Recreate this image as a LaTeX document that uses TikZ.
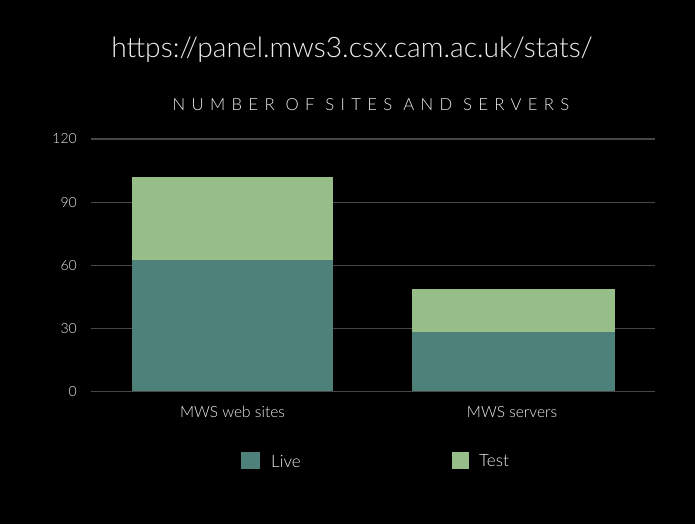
\documentclass[tikz,border=0pt]{standalone}
\usepackage{fontspec}
\setmainfont{Lato}[UprightFont=* Light]
\definecolor{livecol}{HTML}{4E8179}
\definecolor{testcol}{HTML}{97BD89}
\definecolor{gridcol}{HTML}{474747}
\definecolor{txtcol}{HTML}{EDEDED}
\begin{document}
\begin{tikzpicture}[x=1pt,y=-1pt,
  grid/.style={draw=gridcol,line width=1.2pt},
  tick/.style={text=txtcol,font=\fontsize{14}{14}\selectfont,anchor=east,inner sep=0pt},
  cat/.style={text=txtcol,font=\fontsize{15.5}{15.5}\selectfont,inner sep=0pt},
  legtext/.style={text=txtcol,font=\fontsize{17}{17}\selectfont,anchor=west,inner sep=0pt}]
  \fill[black] (0,0) rectangle (695,524);
  \useasboundingbox (0,0) rectangle (695,524);
  % titles
  \node[text=txtcol,font=\fontsize{28.2}{28.2}\selectfont,inner sep=0pt] (title) at (352,50) {https://panel.mws3.csx.cam.ac.uk/stats/};
  \node[text=txtcol,font=\fontsize{16.7}{16.7}\selectfont\addfontfeature{LetterSpace=38},inner sep=0pt] (sub) at (371,105) {NUMBER OF SITES AND SERVERS};
  % gridlines and value labels
  \foreach \v/\yy in {0/391.7,30/328.5,60/265.3,90/202.2,120/139}{
    \draw[grid] (91,\yy) -- (655,\yy);
    \node[tick] (t\v) at (77,\yy) {\v};
  }
  % stacked bars
  \fill[livecol] (132,391) rectangle (333,259.7);
  \fill[testcol] (132,259.7) rectangle (333,177);
  \fill[livecol] (412,391) rectangle (615,331.7);
  \fill[testcol] (412,331.7) rectangle (615,289);
  % category labels
  \node[cat] (c1) at (232.5,412) {MWS web sites};
  \node[cat] (c2) at (512,412) {MWS servers};
  % legend
  \fill[livecol] (241,452) rectangle (260,469);
  \node[legtext] (l1) at (271,461) {Live};
  \fill[testcol] (452,452) rectangle (469,469);
  \node[legtext] (l2) at (479,461) {Test};
\end{tikzpicture}
\end{document}
